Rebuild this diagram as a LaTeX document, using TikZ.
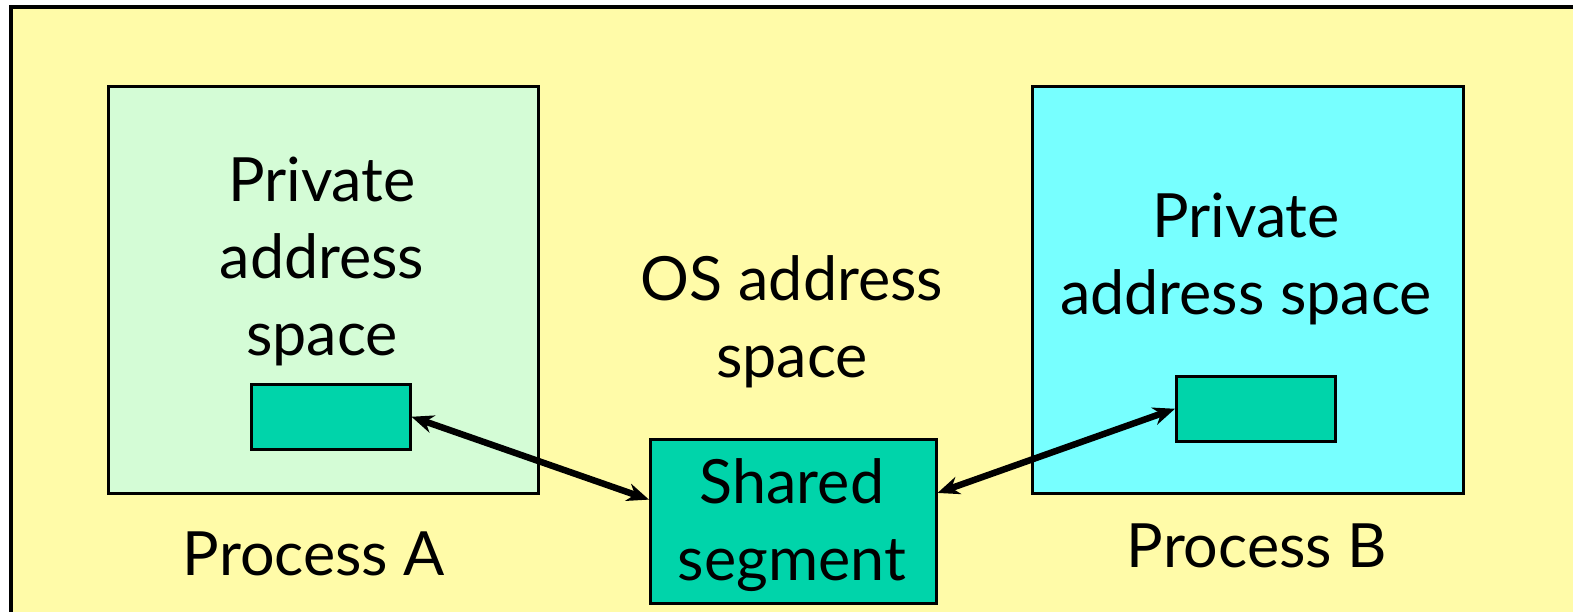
\documentclass[tikz,border=0pt]{standalone}
\usepackage{fontspec}
\setmainfont{Lato}
\usetikzlibrary{arrows.meta,calc}
\definecolor{bgyellow}{RGB}{255,251,168}
\definecolor{palegreen}{RGB}{212,252,214}
\definecolor{cyanbox}{RGB}{119,255,255}
\definecolor{tealbox}{RGB}{0,212,170}
\tikzset{
  bigbox/.style={draw=black, line width=2.5pt, inner sep=0pt, anchor=north west},
  slot/.style={draw=black, line width=2.5pt, fill=tealbox, inner sep=0pt, anchor=north west},
  txt/.style={font=\fontsize{61}{77}\selectfont, align=center, inner sep=0pt, text=black},
  link/.style={line width=6.5pt, {Stealth[length=22pt,width=18pt]}-{Stealth[length=22pt,width=18pt]}}
}
\begin{document}
\begin{tikzpicture}[x=1pt,y=-1pt]
\useasboundingbox (0,0) rectangle (1573,611);
\fill[white] (0,0) rectangle (1573,611);
\fill[bgyellow] (11,7) rectangle (1580,620);
\draw[line width=3.5pt] (11,620) -- (11,7) -- (1580,7);
% process boxes
\node[bigbox, fill=palegreen, minimum width=430pt, minimum height=407pt] (boxA) at (107,85) {};
\node[bigbox, fill=cyanbox, minimum width=431pt, minimum height=407pt] (boxB) at (1031,85) {};
% slots
\node[slot, minimum width=159pt, minimum height=65pt] (slotA) at (250,383) {};
\node[slot, minimum width=159pt, minimum height=65pt] (slotB) at (1175,375) {};
\node[slot, minimum width=286pt, minimum height=164pt] (shared) at (649,438) {};
% texts
\node[txt, anchor=base] (privA) at (322,355) {Private\\address\\space};
\node[txt, anchor=base] (osas) at (792,377) {OS address\\space};
\node[txt, anchor=base] (privB) at (1246,314) {Private\\address space};
\node[txt, anchor=base] (procA) at (314,575) {Process A};
\node[txt, anchor=base] (procB) at (1257,567) {Process B};
\node[txt, anchor=base] (sharedtxt) at (792,580) {Shared\\segment};
% links
\draw[link] (slotA.east) -- ($(shared.north west)!0.37!(shared.south west)$);
\draw[link] ($(shared.north east)!0.33!(shared.south east)$) -- (slotB.west);
\end{tikzpicture}
\end{document}
